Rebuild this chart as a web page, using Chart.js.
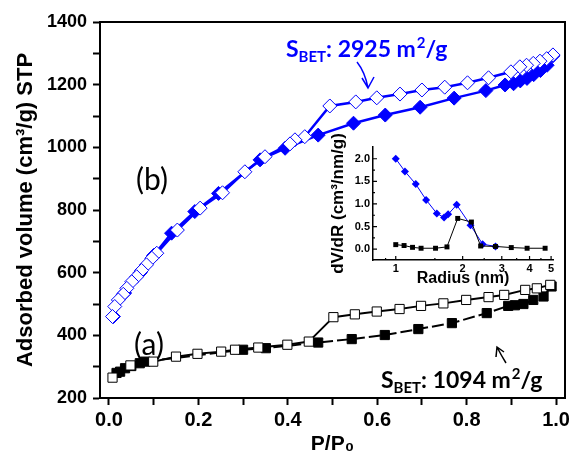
<!DOCTYPE html>
<html>
<head>
<meta charset="utf-8">
<script src="https://cdn.jsdelivr.net/npm/chart.js@4.4.1/dist/chart.umd.min.js"></script>
<style>
  html, body { margin: 0; padding: 0; background: #fff; }
  #wrap { position: relative; width: 569px; height: 459px; overflow: hidden; }
  #wrap canvas { position: absolute; left: 0; top: 0; }
</style>
</head>
<body>
<div id="wrap">
  <canvas id="mainChart" width="576" height="459"></canvas>
  <canvas id="insetChart" width="569" height="459"></canvas>
</div>
<script>
// (b) isotherm, blue diamonds
const bAdsP = [0.01, 0.035, 0.07, 0.10, 0.14, 0.192, 0.245, 0.338, 0.394, 0.468, 0.547, 0.618, 0.696, 0.772, 0.843, 0.886, 0.905, 0.920, 0.935, 0.950, 0.965, 0.980, 0.993];
const bAdsV = [460, 535, 600, 655, 726, 795, 853, 960, 997, 1039, 1077, 1103, 1128, 1157, 1181, 1199, 1203, 1212, 1220, 1232, 1245, 1262, 1292];
const bDesP = [0.993, 0.979, 0.964, 0.949, 0.934, 0.919, 0.899, 0.849, 0.802, 0.751, 0.700, 0.651, 0.599, 0.552, 0.494, 0.438, 0.416, 0.405, 0.349, 0.304, 0.254, 0.204, 0.153, 0.107, 0.096, 0.084, 0.073, 0.062, 0.051, 0.040, 0.032, 0.021, 0.013, 0.008];
const bDesV = [1295, 1283, 1275, 1268, 1262, 1257, 1241, 1222, 1206, 1192, 1183, 1170, 1158, 1145, 1132, 1034, 1024, 1011, 970, 922, 855, 806, 736, 662, 646, 625, 607, 587, 571, 550, 531, 513, 492, 460];

// (a) isotherm, black squares
const aAdsP = [0.017, 0.025, 0.036, 0.05, 0.069, 0.081, 0.30, 0.351, 0.468, 0.543, 0.617, 0.692, 0.767, 0.845, 0.893, 0.908, 0.927, 0.949, 0.972, 0.990];
const aAdsV = [280, 284, 295, 302, 311, 316, 354, 359, 377, 388, 401, 420, 439, 471, 494, 496, 500, 513, 524, 556];
const aDesP = [0.987, 0.957, 0.931, 0.884, 0.849, 0.799, 0.748, 0.698, 0.650, 0.599, 0.550, 0.502, 0.447, 0.399, 0.334, 0.282, 0.251, 0.198, 0.150, 0.099, 0.048, 0.008];
const aDesV = [561, 550, 545, 529, 522, 513, 502, 494, 484, 476, 467, 458, 380, 370, 361, 354, 348, 341, 332, 316, 304, 265];

// inset: pore size distribution
const bRadius = [1.00, 1.10, 1.23, 1.37, 1.53, 1.65, 1.72, 1.88, 2.17, 2.46, 2.81];
const bDvdr   = [2.00, 1.72, 1.44, 1.09, 0.79, 0.70, 0.77, 0.98, 0.53, 0.11, 0.06];
const aRadius = [1.00, 1.09, 1.19, 1.30, 1.51, 1.70, 1.90, 2.19, 2.41, 2.81, 3.31, 3.90, 4.70];
const aDvdr   = [0.10, 0.08, 0.04, 0.02, 0.02, 0.05, 0.68, 0.60, 0.07, 0.06, 0.035, 0.02, 0.02];

const insetXTicks = [1, 2, 3, 4, 5];
const insetYTicks = [0, 0.5, 1.0, 1.5, 2.0];
const sbetB = 2925;
const sbetA = 1094;

const BLUE = '#0000ff';
const pts = (xs, ys) => xs.map((x, i) => ({x: x, y: ys[i]}));

function drawSbet(ctx, x, y, value, color) {
  const big = 'bold 23px Lato', small = 'bold 15px Lato';
  ctx.fillStyle = color;
  ctx.textAlign = 'left';
  ctx.textBaseline = 'alphabetic';
  let cx = x;
  ctx.font = big; ctx.fillText('S', cx, y); cx += ctx.measureText('S').width;
  ctx.font = small; ctx.fillText('BET', cx, y + 5); cx += ctx.measureText('BET').width;
  ctx.font = big;
  const t = ': ' + value + ' m';
  ctx.fillText(t, cx, y); cx += ctx.measureText(t).width;
  ctx.font = small; ctx.fillText('2', cx + 1, y - 9); cx += ctx.measureText('2').width + 1;
  ctx.font = big; ctx.fillText('/g', cx, y);
}

function arrow(ctx, tail, ctrl, tip, arm1, arm2, color) {
  ctx.strokeStyle = color;
  ctx.lineWidth = 1.5;
  ctx.beginPath();
  ctx.moveTo(tail[0], tail[1]);
  ctx.quadraticCurveTo(ctrl[0], ctrl[1], tip[0], tip[1]);
  ctx.moveTo(arm1[0], arm1[1]);
  ctx.lineTo(tip[0], tip[1]);
  ctx.lineTo(arm2[0], arm2[1]);
  ctx.stroke();
}

const mainDecor = {
  id: 'mainDecor',
  afterDraw(chart) {
    const ctx = chart.ctx;
    const a = chart.chartArea;
    ctx.save();
    ctx.strokeStyle = '#000';
    ctx.lineWidth = 2;
    ctx.strokeRect(a.left, a.top, a.right - a.left, a.bottom - a.top);

    ctx.fillStyle = '#000';
    ctx.font = '30px Lato';
    ctx.textAlign = 'center';
    ctx.textBaseline = 'middle';
    ctx.fillText('(b)', 152, 180);
    ctx.fillText('(a)', 149, 345);

    drawSbet(ctx, 286, 57, sbetB, BLUE);
    drawSbet(ctx, 381, 388, sbetA, '#000');
    arrow(ctx, [357, 62], [365, 72], [368, 88], [362, 78], [374, 77], BLUE);
    arrow(ctx, [506, 363], [501, 355], [497, 347], [496, 357], [504, 352], '#000');
    ctx.restore();
  }
};

new Chart(document.getElementById('mainChart'), {
  type: 'line',
  data: {
    datasets: [
      { data: pts(bDesP, bDesV), borderColor: BLUE, borderWidth: 2.5, pointStyle: 'rectRot',
        pointRadius: 7, pointBackgroundColor: '#fff', pointBorderColor: BLUE, pointBorderWidth: 1 },
      { data: pts(bAdsP, bAdsV), borderColor: BLUE, borderWidth: 2.5, pointStyle: 'rectRot',
        pointRadius: 7, pointBackgroundColor: BLUE, pointBorderColor: BLUE, pointBorderWidth: 1 },
      { data: pts(aDesP, aDesV), borderColor: '#000', borderWidth: 2, pointStyle: 'rect',
        pointRadius: 6.5, pointBackgroundColor: '#fff', pointBorderColor: '#000', pointBorderWidth: 1 },
      { data: pts(aAdsP, aAdsV), borderColor: '#000', borderWidth: 2, borderDash: [12, 4], pointStyle: 'rect',
        pointRadius: 6.5, pointBackgroundColor: '#000', pointBorderColor: '#000', pointBorderWidth: 1 }
    ]
  },
  options: {
    responsive: false,
    animation: false,
    events: [],
    // canvas is 7px wider than the window so the last x label's overhang fits
    layout: { padding: { left: 0, top: 22, right: 11, bottom: 0 } },
    plugins: { legend: { display: false }, tooltip: { enabled: false } },
    elements: { line: { tension: 0 } },
    scales: {
      x: {
        type: 'linear', min: -0.02, max: 1.02,
        afterFit: s => { s.height = 61; },
        border: { color: '#000', width: 2 },
        grid: { drawOnChartArea: false, tickLength: 7, tickColor: '#000', tickWidth: 2 },
        ticks: {
          stepSize: 0.1, includeBounds: false, autoSkip: false, maxRotation: 0,
          color: '#000', padding: 3, font: { family: 'Liberation Sans', weight: 'bold', size: 20 },
          callback: v => Math.round(v * 10) % 2 === 0 ? v.toFixed(1) : ''
        },
        title: { display: true, text: 'P/P\u2080', color: '#000', padding: { top: 0, bottom: 2 },
          font: { family: 'Liberation Sans', weight: 'bold', size: 21 } }
      },
      y: {
        type: 'linear', min: 200, max: 1400,
        afterFit: s => { s.width = 100; },
        border: { color: '#000', width: 2 },
        grid: { drawOnChartArea: false, tickLength: 7, tickColor: '#000', tickWidth: 2 },
        ticks: {
          stepSize: 100, autoSkip: false, color: '#000', padding: 6,
          font: { family: 'Liberation Sans', weight: 'bold', size: 18 },
          callback: v => v % 200 === 0 ? String(v) : ''
        },
        title: { display: true, text: 'Adsorbed volume (cm\u00b3/g) STP', color: '#000', padding: { top: 13 },
          font: { family: 'Liberation Sans', weight: 'bold', size: 22 } }
      }
    }
  },
  plugins: [mainDecor]
});

const insetTicks = {
  id: 'insetTicks',
  afterDraw(chart) {
    const ctx = chart.ctx;
    const xs = chart.scales.x, ys = chart.scales.y;
    const a = chart.chartArea;
    ctx.save();
    ctx.strokeStyle = '#000';
    ctx.lineWidth = 1.2;
    ctx.beginPath();
    for (let v = 0; v <= 2.001; v += 0.25) {
      const py = ys.getPixelForValue(v);
      const len = Math.abs(v * 2 - Math.round(v * 2)) < 1e-6 ? 4 : 2;
      ctx.moveTo(a.left, py); ctx.lineTo(a.left + len, py);
    }
    insetXTicks.forEach(v => {
      const px = xs.getPixelForValue(v);
      ctx.moveTo(px, a.bottom); ctx.lineTo(px, a.bottom - 4);
      const pm = xs.getPixelForValue(v + 0.5);
      if (v + 0.5 < 5.1) { ctx.moveTo(pm, a.bottom); ctx.lineTo(pm, a.bottom - 2); }
    });
    const p9 = xs.getPixelForValue(0.9);
    ctx.moveTo(p9, a.bottom); ctx.lineTo(p9, a.bottom - 2);
    ctx.stroke();
    ctx.restore();
  }
};

new Chart(document.getElementById('insetChart'), {
  type: 'line',
  data: {
    datasets: [
      { data: pts(aRadius, aDvdr), borderColor: '#000', borderWidth: 1, pointStyle: 'rect',
        pointRadius: 3.5, pointBackgroundColor: '#000', pointBorderColor: '#000', pointBorderWidth: 0 },
      { data: pts(bRadius, bDvdr), borderColor: BLUE, borderWidth: 1, pointStyle: 'rectRot',
        pointRadius: 4, pointBackgroundColor: BLUE, pointBorderColor: BLUE, pointBorderWidth: 0 }
    ]
  },
  options: {
    responsive: false,
    animation: false,
    events: [],
    layout: { padding: { left: 326, top: 147, right: 16, bottom: 169 } },
    plugins: { legend: { display: false }, tooltip: { enabled: false } },
    elements: { line: { tension: 0 } },
    scales: {
      x: {
        type: 'logarithmic', min: 0.79, max: 5.1,
        afterFit: s => { s.height = 30; },
        afterBuildTicks: s => { s.ticks = insetXTicks.map(v => ({value: v})); },
        border: { color: '#000', width: 1.5 },
        grid: { drawOnChartArea: false, drawTicks: false },
        ticks: {
          autoSkip: false, maxRotation: 0, color: '#000', padding: 2,
          font: { family: 'Liberation Sans', weight: 'bold', size: 11 },
          callback: v => String(v)
        },
        title: { display: true, text: 'Radius (nm)', color: '#000', padding: { top: 0, bottom: 2 },
          font: { family: 'Liberation Sans', weight: 'bold', size: 16 } }
      },
      y: {
        type: 'linear', min: -0.24, max: 2.26,
        afterFit: s => { s.width = 47; },
        afterBuildTicks: s => { s.ticks = insetYTicks.map(v => ({value: v})); },
        border: { color: '#000', width: 1.5 },
        grid: { drawOnChartArea: false, drawTicks: false },
        ticks: {
          autoSkip: false, color: '#000', padding: 3,
          font: { family: 'Liberation Sans', weight: 'bold', size: 11 },
          callback: v => v.toFixed(1)
        },
        title: { display: true, text: 'dV/dR (cm\u00b3/nm/g)', color: '#000', padding: { top: 2 },
          font: { family: 'Liberation Sans', weight: 'bold', size: 17 } }
      }
    }
  },
  plugins: [insetTicks]
});
</script>
</body>
</html>
